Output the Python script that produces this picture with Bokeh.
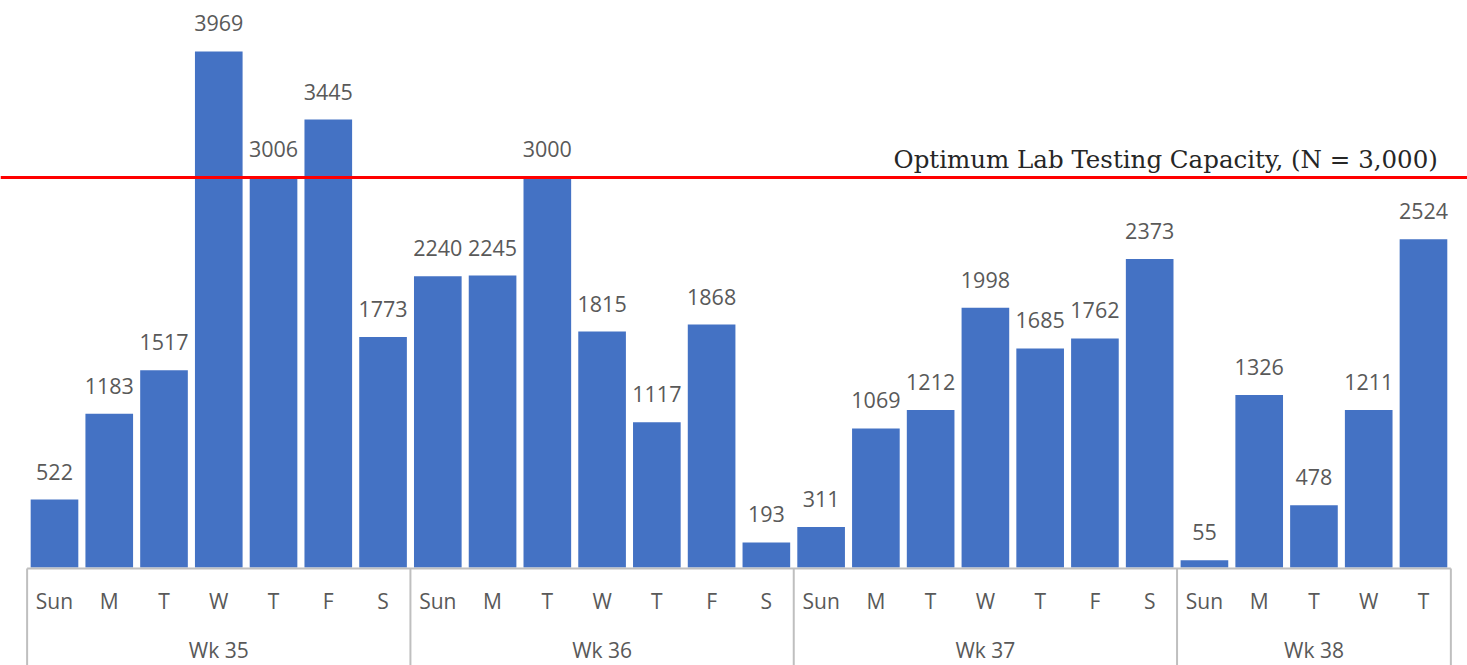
from bokeh.plotting import figure
from bokeh.models import Range1d, Span
from bokeh.core.properties import value
from bokeh.embed import file_html
from bokeh.resources import INLINE
import numpy as np

# ---- data ----
weeks = ["Wk 35", "Wk 36", "Wk 37", "Wk 38"]
day_names = ["Sun", "M", "T", "W", "T", "F", "S"]
wk35 = [522, 1183, 1517, 3969, 3006, 3445, 1773]
wk36 = [2240, 2245, 3000, 1815, 1117, 1868, 193]
wk37 = [311, 1069, 1212, 1998, 1685, 1762, 2373]
wk38 = [55, 1326, 478, 1211, 2524]
capacity = 3000
capacity_label = "Optimum Lab Testing Capacity, (N = 3,000)"

series = [wk35, wk36, wk37, wk38]
values = [v for s in series for v in s]
days = [day_names[i] for s in series for i in range(len(s))]
xs = list(range(len(values)))
counts = [len(s) for s in series]
bounds = list(np.concatenate([[0], np.cumsum(counts)]) - 0.5)
week_centers = [(bounds[i] + bounds[i + 1]) / 2 for i in range(len(weeks))]

BAR = "#4472C4"
TXT = "#595959"
GRID = "#BFBFBF"
FONT = value("Open Sans")
Y0, Y1 = -754, 4361

p = figure(width=1467, height=665,
           x_range=Range1d(-0.986, 25.804), y_range=Range1d(Y0, Y1),
           output_backend="svg", toolbar_location=None, min_border=0)
p.xaxis.visible = False
p.yaxis.visible = False
p.grid.visible = False
p.outline_line_color = None

p.vbar(x=xs, top=values, bottom=0, width=0.87, fill_color=BAR, line_color=None)

# value labels
p.text(x=xs, y=values, text=[str(v) for v in values], y_offset=-28,
       text_align="center", text_baseline="middle", text_color=TXT,
       text_font=FONT, text_font_size="21.5px")

# axis box
p.segment(x0=[bounds[0]], x1=[bounds[-1]], y0=[-8], y1=[-8], line_color=GRID, line_width=2)
p.segment(x0=bounds, x1=bounds, y0=[-8] * len(bounds), y1=[Y0] * len(bounds),
          line_color=GRID, line_width=2)

# category labels
p.text(x=xs, y=[0] * len(xs), text=days, y_offset=34,
       text_align="center", text_baseline="middle", text_color=TXT,
       text_font=FONT, text_font_size="21px")
p.text(x=week_centers, y=[0] * len(weeks), text=weeks, y_offset=83,
       text_align="center", text_baseline="middle", text_color=TXT,
       text_font=FONT, text_font_size="21px")

# capacity line
p.add_layout(Span(location=capacity, dimension="width", line_color="#FF0000", line_width=3))
p.text(x=[bounds[-1]], y=[capacity], text=[capacity_label], x_offset=-13, y_offset=-18,
       text_align="right", text_baseline="middle", text_color="#262626",
       text_font=value("DejaVu Serif"), text_font_size="24.5px")

open("out.html", "w").write(file_html(p, INLINE))
